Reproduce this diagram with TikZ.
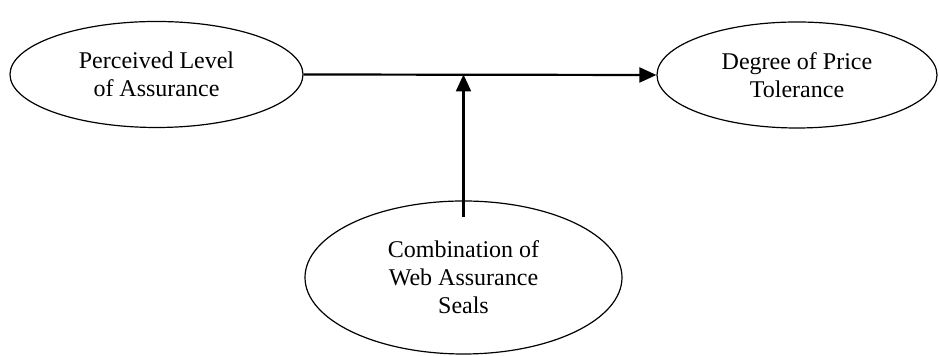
\documentclass[tikz,border=0pt]{standalone}
\usepackage{fontspec}
\setmainfont{Liberation Serif}
\usetikzlibrary{arrows.meta,shapes.geometric,positioning,calc}

\begin{document}
\begin{tikzpicture}[x=0.5pt,y=-0.5pt,
  construct/.style={ellipse,draw,line width=0.6pt,align=center,inner sep=0pt,
    font=\fontsize{12}{14}\selectfont},
  effect/.style={line width=1.1pt,-{Triangle[length=8.5pt,width=7.5pt]}}]
\useasboundingbox (0,0) rectangle (939,356);
\draw (156.5,74.5) node (pla) [construct,minimum width=146.5pt,minimum height=53pt] {Perceived Level\\of Assurance};
\draw (797,75) node (dpt) [construct,minimum width=140pt,minimum height=53pt] {Degree of Price\\Tolerance};
\draw (463.5,277.5) node (cws) [construct,minimum width=158.5pt,minimum height=76.5pt] {Combination of\\Web Assurance\\Seals};
\coordinate (join) at (cws.north |- pla.east);
\draw[effect] (pla.east) -- (dpt.west);
\draw[effect] ([yshift=-8.5pt]cws.north) -- (join);
\end{tikzpicture}
\end{document}
